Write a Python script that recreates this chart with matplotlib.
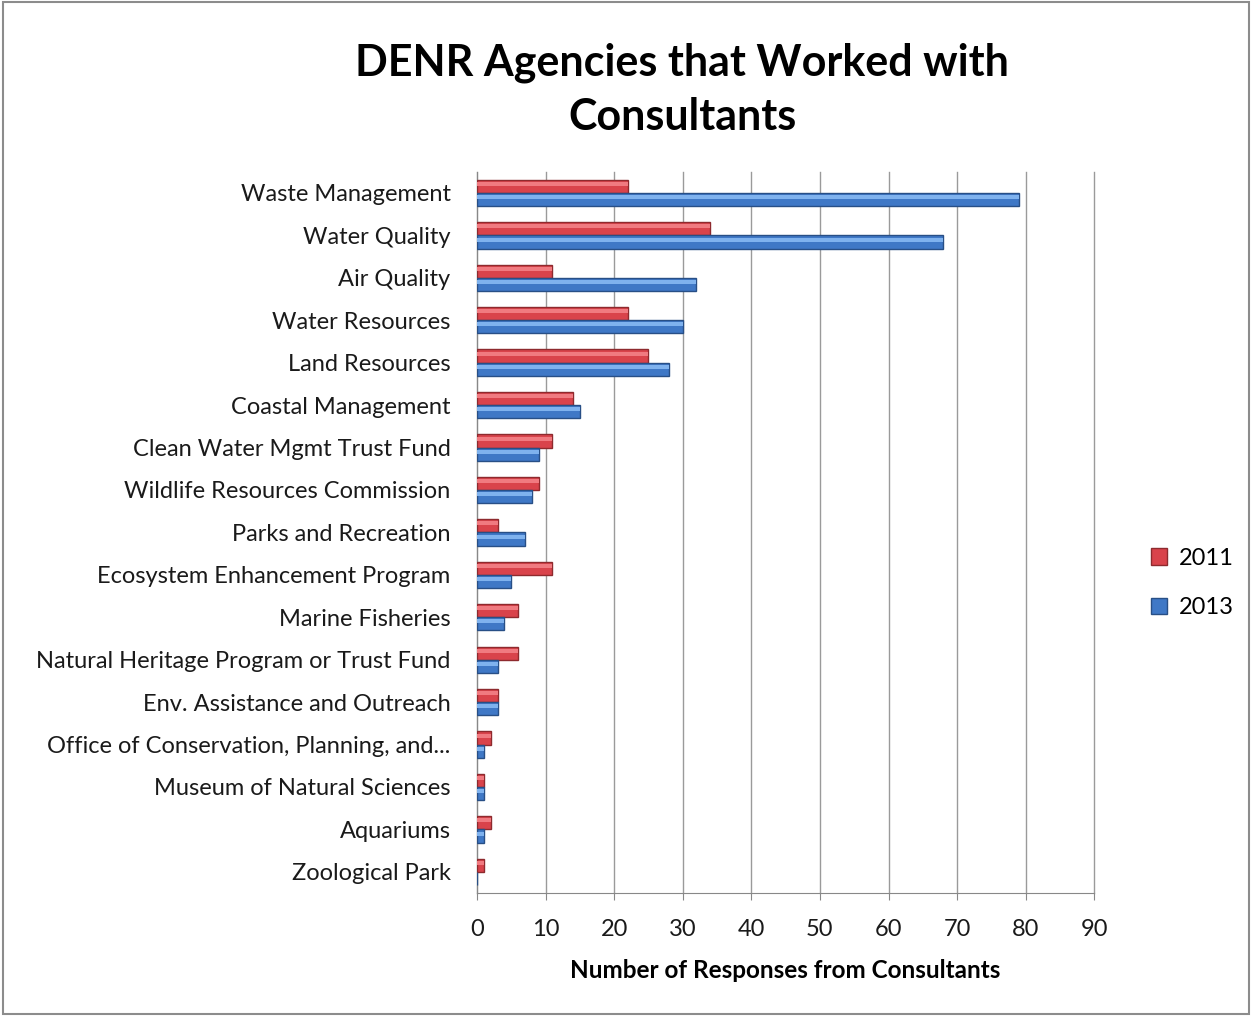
import matplotlib
matplotlib.use("Agg")
import matplotlib.pyplot as plt
from matplotlib.patches import Rectangle
import numpy as np

plt.rcParams['font.family'] = ['Lato', 'DejaVu Sans']

agencies = [
    'Waste Management',
    'Water Quality',
    'Air Quality',
    'Water Resources',
    'Land Resources',
    'Coastal Management',
    'Clean Water Mgmt Trust Fund',
    'Wildlife Resources Commission',
    'Parks and Recreation',
    'Ecosystem Enhancement Program',
    'Marine Fisheries',
    'Natural Heritage Program or Trust Fund',
    'Env. Assistance and Outreach',
    'Office of Conservation, Planning, and...',
    'Museum of Natural Sciences',
    'Aquariums',
    'Zoological Park',
]
resp_2011 = [22, 34, 11, 22, 25, 14, 11, 9, 3, 11, 6, 6, 3, 2, 1, 2, 1]
resp_2013 = [79, 68, 32, 30, 28, 15, 9, 8, 7, 5, 4, 3, 3, 1, 1, 1, 0]

red = '#d9434b'
red_light = '#f07a80'
red_dark = '#8e2a2e'
blue = '#3f78c6'
blue_light = '#7fb2ee'
blue_dark = '#284f86'

fig = plt.figure(figsize=(12.52, 10.16), dpi=100)
ax = fig.add_axes([0.381, 0.121, 0.493, 0.71])

y = np.arange(len(agencies))
h = 0.31


def fancy_bars(vals, offset, base, light, dark, label):
    ax.barh(y + offset, vals, height=h, color=base, edgecolor=dark,
            linewidth=1.0, label=label, zorder=3)
    # highlight stripe to mimic the bevelled look
    ax.barh(y + offset - h * 0.18, vals, height=h * 0.3, color=light,
            linewidth=0, zorder=4)


fancy_bars(resp_2011, -h / 2, red, red_light, red_dark, '2011')
fancy_bars(resp_2013, h / 2, blue, blue_light, blue_dark, '2013')

ax.set_xlim(0, 90)
ax.set_ylim(len(agencies) - 0.5, -0.5)
ax.set_xticks(range(0, 91, 10))
ax.set_yticks(y)
ax.set_yticklabels(agencies, fontsize=17, color='#1a1a1a')
ax.tick_params(axis='y', length=0, pad=19)
ax.tick_params(axis='x', labelsize=17, colors='#1a1a1a', length=5,
               color='#888888', pad=14)
ax.grid(axis='x', color='#9a9a9a', linewidth=1.0, zorder=0)
for gl in ax.get_xgridlines():
    gl.set_clip_on(False)
for s in ['top', 'right']:
    ax.spines[s].set_visible(False)
ax.spines['left'].set_color('#888888')
ax.spines['bottom'].set_color('#888888')

ax.set_xlabel('Number of Responses from Consultants', fontsize=17.5,
              fontweight='bold', labelpad=13)

fig.text(0.545, 0.912, 'DENR Agencies that Worked with\nConsultants',
         ha='center', va='center', fontsize=31, fontweight='bold',
         linespacing=1.42)

handles, labels = ax.get_legend_handles_labels()
leg = fig.legend(handles, labels, loc='center left',
                 bbox_to_anchor=(0.902, 0.426), frameon=False, fontsize=17,
                 handlelength=0.7, handleheight=0.7, handletextpad=0.5,
                 labelspacing=1.2)

fig.patches.append(Rectangle((0.002, 0.002), 0.996, 0.996,
                             transform=fig.transFigure, fill=False,
                             edgecolor='#8c8c8c', linewidth=1.5))

fig.savefig('out.png', dpi=100)
